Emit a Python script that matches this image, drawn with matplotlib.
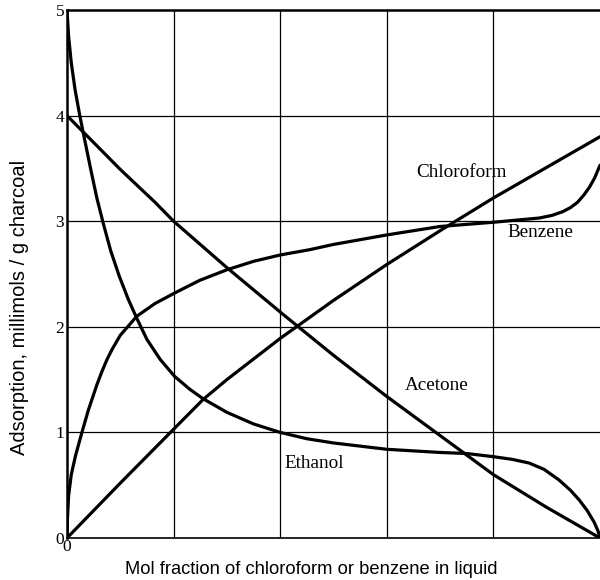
import matplotlib
matplotlib.use("Agg")
import matplotlib.pyplot as plt

# adsorption isotherms on charcoal, read as (mol fraction, millimols/g)
ethanol_x = [0.0, 0.003, 0.008, 0.015, 0.024, 0.034, 0.045, 0.056, 0.068, 0.082,
             0.098, 0.115, 0.131, 0.15, 0.175, 0.202, 0.23, 0.255, 0.30, 0.35,
             0.40, 0.45, 0.50, 0.60, 0.70, 0.75, 0.80, 0.835, 0.867, 0.895,
             0.923, 0.945, 0.961, 0.976, 0.989, 0.996, 1.0]
ethanol_y = [5.0, 4.75, 4.5, 4.25, 4.0, 3.75, 3.48, 3.22, 2.98, 2.72,
             2.48, 2.26, 2.08, 1.88, 1.69, 1.53, 1.41, 1.32, 1.19, 1.08,
             1.0, 0.94, 0.90, 0.84, 0.81, 0.80, 0.77, 0.745, 0.71, 0.65,
             0.55, 0.45, 0.36, 0.26, 0.15, 0.07, 0.0]

benzene_x = [0.0, 0.001, 0.003, 0.008, 0.016, 0.028, 0.04, 0.056, 0.065, 0.075,
             0.085, 0.10, 0.131, 0.165, 0.202, 0.249, 0.30, 0.35, 0.40, 0.455,
             0.50, 0.60, 0.70, 0.80, 0.886, 0.91, 0.93, 0.945, 0.958, 0.97,
             0.98, 0.99, 1.0]
benzene_y = [0.0, 0.2, 0.4, 0.6, 0.78, 1.0, 1.21, 1.45, 1.57, 1.69,
             1.79, 1.92, 2.1, 2.22, 2.32, 2.44, 2.54, 2.62, 2.68, 2.73,
             2.78, 2.87, 2.95, 2.99, 3.03, 3.055, 3.09, 3.13, 3.18, 3.25,
             3.32, 3.41, 3.53]

chloroform_x = [0.0, 0.1, 0.2, 0.255, 0.3, 0.4, 0.5, 0.6, 0.7, 0.8, 0.9, 1.0]
chloroform_y = [0.0, 0.52, 1.03, 1.31, 1.50, 1.89, 2.25, 2.59, 2.91, 3.22, 3.51, 3.8]

acetone_x = [0.0, 0.1, 0.165, 0.2, 0.3, 0.4, 0.434, 0.5, 0.6, 0.7, 0.8, 0.9, 1.0]
acetone_y = [4.0, 3.49, 3.18, 3.0, 2.56, 2.14, 2.0, 1.73, 1.34, 0.97, 0.6, 0.29, 0.0]

curve_labels = [("Chloroform", 0.740, 3.46), ("Benzene", 0.889, 2.89),
                ("Acetone", 0.693, 1.44), ("Ethanol", 0.464, 0.71)]

y_ticks = [0, 1, 2, 3, 4, 5]
grid_x = [0.2, 0.4, 0.6, 0.8]
grid_y = [1, 2, 3, 4]

serif = ["Liberation Serif", "DejaVu Serif"]
sans = ["Liberation Sans", "DejaVu Sans"]

fig = plt.figure(figsize=(6.0, 5.8), dpi=100)
ax = fig.add_axes([67 / 600, 42 / 580, 533 / 600, 528 / 580])
ax.set_xlim(0, 1)
ax.set_ylim(0, 5)

for gx in grid_x:
    ax.axvline(gx, color="black", lw=0.9, zorder=1)
for gy in grid_y:
    ax.axhline(gy, color="black", lw=0.9, zorder=1)

for xs, ys in [(ethanol_x, ethanol_y), (benzene_x, benzene_y),
               (chloroform_x, chloroform_y), (acetone_x, acetone_y)]:
    ax.plot(xs, ys, color="black", lw=2.3, solid_capstyle="round",
            solid_joinstyle="round", zorder=3)

for name, lx, ly in curve_labels:
    ax.text(lx, ly, name, ha="center", va="center", fontsize=13.8,
            family=serif, zorder=4)

ax.spines["right"].set_visible(False)
ax.spines["top"].set_linewidth(1.8)
ax.spines["left"].set_linewidth(1.8)
ax.spines["bottom"].set_linewidth(1.2)

ax.set_yticks(y_ticks)
ax.set_yticklabels([str(t) for t in y_ticks], family=serif, fontsize=12.5)
ax.set_xticks([0])
ax.set_xticklabels(["0"], family=serif, fontsize=12.5)
ax.tick_params(axis="both", length=0)
ax.tick_params(axis="y", pad=2)
ax.tick_params(axis="x", pad=1)

fig.text(311 / 600, 1 - 570 / 580, "Mol fraction of chloroform or benzene in liquid",
         ha="center", va="center", fontsize=13.2, family=sans)
fig.text(20 / 600, 1 - 307 / 580, "Adsorption, millimols / g charcoal",
         ha="center", va="center", rotation=90, fontsize=14.5, family=sans)

fig.savefig("out.png", dpi=100)
